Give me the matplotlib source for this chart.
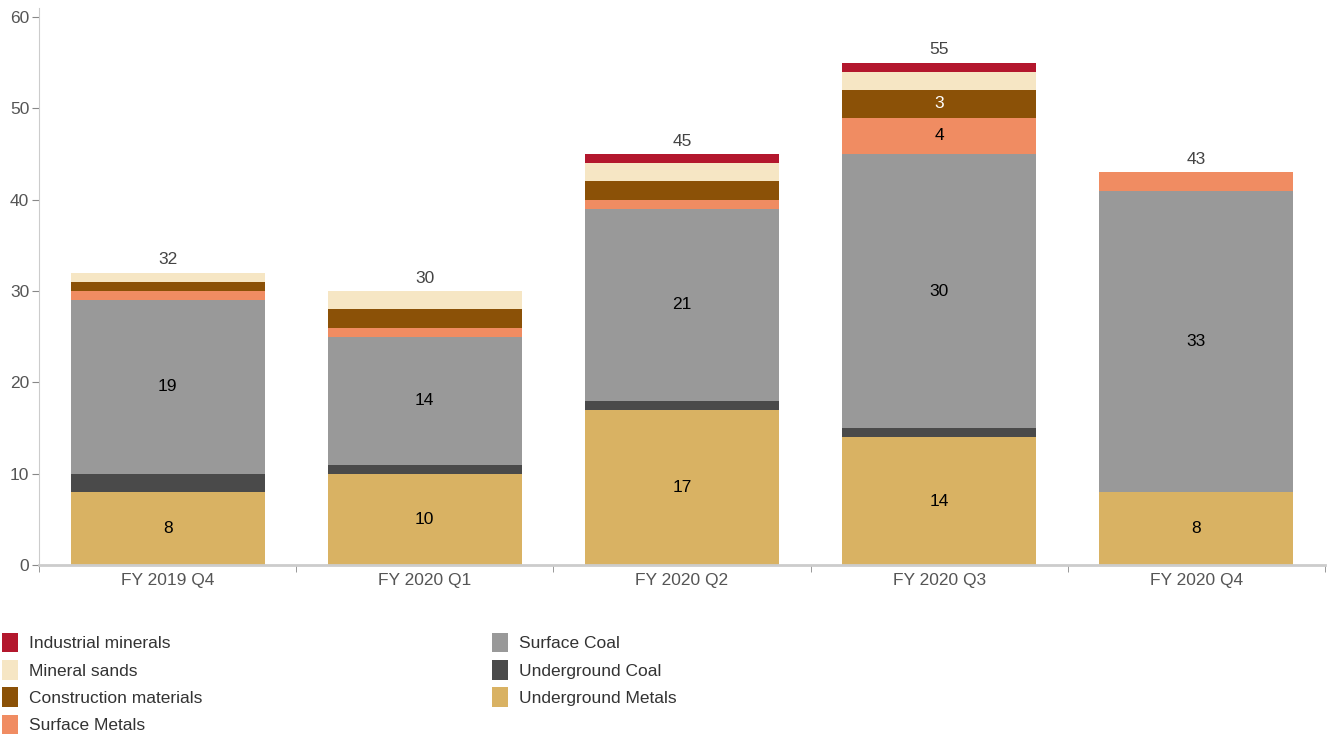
import matplotlib

matplotlib.use("Agg")

import matplotlib.pyplot as plt
import numpy as np
from matplotlib.patches import Patch

plt.rcParams["font.family"] = ["Liberation Sans", "DejaVu Sans"]

quarters = ["FY 2019 Q4", "FY 2020 Q1", "FY 2020 Q2", "FY 2020 Q3", "FY 2020 Q4"]

# stacked bottom to top
underground_metals = [8, 10, 17, 14, 8]
underground_coal = [2, 1, 1, 1, 0]
surface_coal = [19, 14, 21, 30, 33]
surface_metals = [1, 1, 1, 4, 2]
construction_materials = [1, 2, 2, 3, 0]
mineral_sands = [1, 2, 2, 2, 0]
industrial_minerals = [0, 0, 1, 1, 0]

series = [
    ("Underground Metals", underground_metals, "#d9b263", "black"),
    ("Underground Coal", underground_coal, "#4a4a4a", "white"),
    ("Surface Coal", surface_coal, "#999999", "black"),
    ("Surface Metals", surface_metals, "#f08c62", "black"),
    ("Construction materials", construction_materials, "#8b5107", "white"),
    ("Mineral sands", mineral_sands, "#f6e6c4", "black"),
    ("Industrial minerals", industrial_minerals, "#b3172d", "white"),
]

fig = plt.figure(figsize=(13.3, 7.35), dpi=100)
ax = fig.add_axes([39 / 1330, 170 / 735, 1286 / 1330, 557 / 735])

x = np.arange(len(quarters))
bottom = np.zeros(len(quarters))
for name, vals, color, txt in series:
    vals = np.array(vals, dtype=float)
    ax.bar(x, vals, bottom=bottom, width=0.755, color=color, linewidth=0)
    for xi, b, v in zip(x, bottom, vals):
        if v >= 3:
            ax.text(xi, b + v / 2, f"{v:.0f}", ha="center", va="center",
                    fontsize=12.5, color=txt)
    bottom += vals

for xi, total in zip(x, bottom):
    ax.text(xi, total + 0.6, f"{total:.0f}", ha="center", va="bottom",
            fontsize=12.5, color="#444444")

ax.set_xlim(-0.5, len(quarters) - 0.5)
ax.set_ylim(0, 61)
ax.set_yticks(range(0, 61, 10))
ax.set_xticks(x)
ax.set_xticklabels(quarters)
ax.set_xticks(np.arange(-0.5, len(quarters) - 0.4, 1), minor=True)
ax.tick_params(axis="x", which="major", length=0, labelsize=12.5,
               labelcolor="#555555", pad=6)
ax.tick_params(axis="x", which="minor", length=5, color="#888888", direction="out")
ax.tick_params(axis="y", length=5, color="#888888", labelsize=12.5,
               labelcolor="#555555", pad=2)

for side in ["top", "right"]:
    ax.spines[side].set_visible(False)
ax.spines["left"].set_color("#cccccc")
ax.spines["bottom"].set_color("#cccccc")
ax.spines["bottom"].set_linewidth(2)

legend_order = [6, 5, 4, 3, 2, 1, 0]
handles = [Patch(facecolor=series[i][2], edgecolor="none", label=series[i][0])
           for i in legend_order]
# two columns: four entries, then three
legend_kw = dict(loc="upper left", frameon=False, fontsize=12.5,
                 handlelength=0.95, handleheight=1.35, handletextpad=0.6,
                 labelspacing=0.45, borderaxespad=0, borderpad=0)
leg1 = fig.legend(handles=handles[:4], bbox_to_anchor=(2 / 1330, 0.139), **legend_kw)
leg2 = fig.legend(handles=handles[4:], bbox_to_anchor=(492 / 1330, 0.139), **legend_kw)
for leg in (leg1, leg2):
    for t in leg.get_texts():
        t.set_color("#333333")

fig.savefig("out.png", dpi=100)
